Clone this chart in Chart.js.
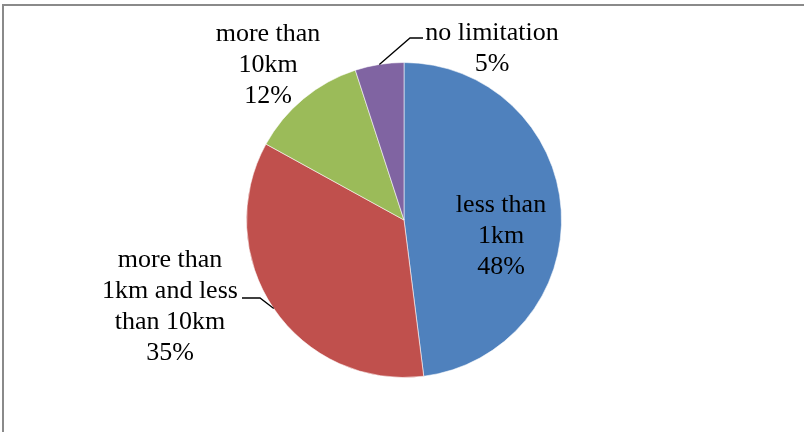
<!DOCTYPE html>
<html>
<head>
<meta charset="utf-8">
<script src="https://cdn.jsdelivr.net/npm/chart.js@4/dist/chart.umd.min.js"></script>
<style>
  html, body { margin: 0; padding: 0; background: #ffffff; }
  #wrap { width: 804px; height: 432px; }
</style>
</head>
<body>
<div id="wrap"><canvas id="pie" width="804" height="432"></canvas></div>
<script>
// Distance categories and their shares (%)
const categories = ['less than 1km', 'more than 1km and less than 10km', 'more than 10km', 'no limitation'];
const shares = [48, 35, 12, 5];
const labelLines = [
  ['less than', '1km'],
  ['more than', '1km and less', 'than 10km'],
  ['more than', '10km'],
  ['no limitation']
];
const sliceColors = ['#4F81BD', '#C0504D', '#9BBB59', '#8064A2'];

// Where each label block sits: centre x, first baseline y, and optional leader elbow
const labelLayout = [
  { x: 501, y: 212, leader: null },
  { x: 170, y: 267, leader: { elbow: [260, 298], end: [242, 298] } },
  { x: 268, y: 41, leader: null },
  { x: 492, y: 40, leader: { elbow: [410, 38], end: [423, 38] } }
];

const lineHeight = 31;
const fontSpec = '26px "Liberation Serif", "Times New Roman", serif';

const framePlugin = {
  id: 'frame',
  beforeDraw(chart) {
    const ctx = chart.ctx;
    ctx.save();
    ctx.fillStyle = '#ffffff';
    ctx.fillRect(0, 0, chart.width, chart.height);
    ctx.strokeStyle = '#8a8a8a';
    ctx.lineWidth = 2;
    ctx.beginPath();
    ctx.moveTo(3, chart.height);
    ctx.lineTo(3, 5);
    ctx.lineTo(chart.width, 5);
    ctx.stroke();
    ctx.restore();
  }
};

const labelPlugin = {
  id: 'sliceLabels',
  afterDatasetsDraw(chart) {
    const ctx = chart.ctx;
    const meta = chart.getDatasetMeta(0);
    const total = shares.reduce((a, b) => a + b, 0);
    ctx.save();
    ctx.font = fontSpec;
    ctx.fillStyle = '#000000';
    ctx.textAlign = 'center';
    ctx.textBaseline = 'alphabetic';
    meta.data.forEach((arc, i) => {
      const p = arc.getProps(['x', 'y', 'startAngle', 'endAngle', 'outerRadius'], true);
      const lay = labelLayout[i];
      const lines = labelLines[i].concat([Math.round(shares[i] / total * 100) + '%']);
      lines.forEach((t, k) => ctx.fillText(t, lay.x, lay.y + k * lineHeight));
      if (lay.leader) {
        const mid = (p.startAngle + p.endAngle) / 2;
        const ax = p.x + Math.cos(mid) * p.outerRadius;
        const ay = p.y + Math.sin(mid) * p.outerRadius;
        ctx.strokeStyle = '#000000';
        ctx.lineWidth = 1.3;
        ctx.beginPath();
        ctx.moveTo(ax, ay);
        ctx.lineTo(lay.leader.elbow[0], lay.leader.elbow[1]);
        ctx.lineTo(lay.leader.end[0], lay.leader.end[1]);
        ctx.stroke();
      }
    });
    ctx.restore();
  }
};

new Chart(document.getElementById('pie'), {
  type: 'pie',
  data: {
    labels: categories,
    datasets: [{
      data: shares,
      backgroundColor: sliceColors,
      borderColor: 'rgba(255,255,255,0.55)',
      borderWidth: 1
    }]
  },
  options: {
    responsive: false,
    animation: false,
    layout: { padding: { top: 62, bottom: 54, left: 246, right: 242 } },
    plugins: {
      legend: { display: false },
      tooltip: { enabled: false }
    }
  },
  plugins: [framePlugin, labelPlugin]
});
</script>
</body>
</html>
